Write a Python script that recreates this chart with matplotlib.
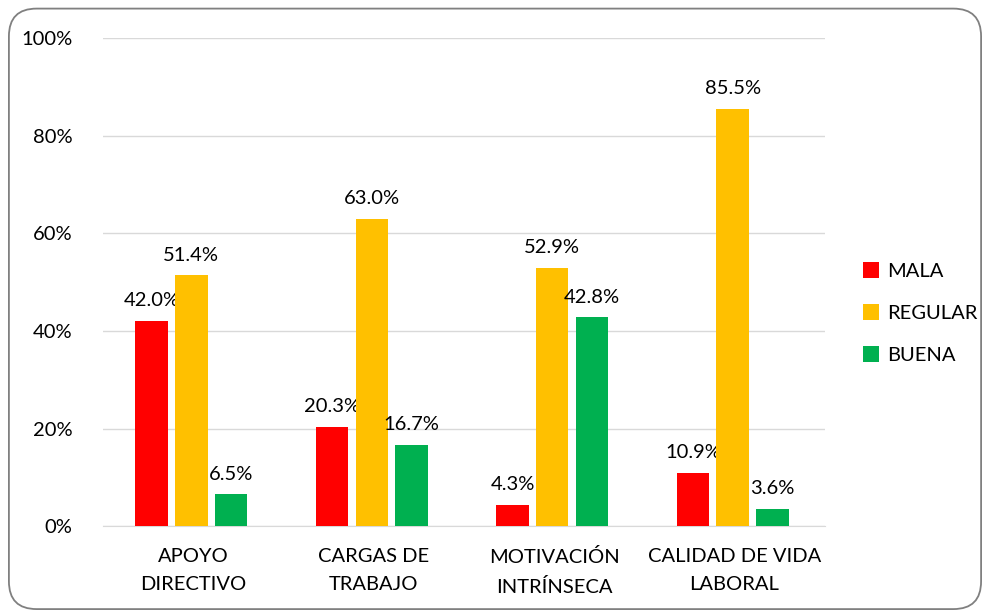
import numpy as np
import matplotlib
matplotlib.use('Agg')
from matplotlib import pyplot as plt
from matplotlib.patches import FancyBboxPatch, Patch

# data
categories = ['APOYO\nDIRECTIVO', 'CARGAS DE\nTRABAJO', 'MOTIVACIÓN\nINTRÍNSECA', 'CALIDAD DE VIDA\nLABORAL']
series = ['MALA', 'REGULAR', 'BUENA']
mala = [42.0, 20.3, 4.3, 10.9]
regular = [51.4, 63.0, 52.9, 85.5]
buena = [6.5, 16.7, 42.8, 3.6]
colors = ['#ff0000', '#ffc000', '#00b050']

plt.rcParams['font.family'] = ['Lato', 'DejaVu Sans']
fs = 14.5

fig = plt.figure(figsize=(9.9, 6.14), dpi=100)
ax = fig.add_axes([0.104, 0.143, 0.729, 0.795])

# rounded border round the chart
border = FancyBboxPatch((0.009, 0.008), 0.982, 0.978, boxstyle='round,pad=0,rounding_size=0.028',
                        transform=fig.transFigure, facecolor='none', edgecolor='#808080',
                        linewidth=1.3, mutation_aspect=990 / 614)
fig.patches.append(border)

x = np.arange(len(categories))
width = 0.18
offset = 0.22
for i, (vals, c) in enumerate(zip([mala, regular, buena], colors)):
    pos = x + (i - 1) * offset - 0.01
    ax.bar(pos, vals, width, color=c, label=series[i], zorder=3)
    for p, v in zip(pos, vals):
        ax.text(p, v + 2.4, f'{v:.1f}%', ha='center', va='bottom', fontsize=fs, color='black')

ax.set_xlim(-0.5, 3.5)
ax.set_ylim(0, 100)
ax.set_yticks(np.arange(0, 101, 20))
ax.set_yticklabels([f'{t}%' for t in range(0, 101, 20)], fontsize=fs)
ax.set_xticks(x)
ax.set_xticklabels(categories, fontsize=fs, linespacing=1.75)
ax.tick_params(axis='both', length=0, colors='black')
ax.tick_params(axis='y', pad=22)
ax.tick_params(axis='x', pad=16)
ax.grid(axis='y', color='#d9d9d9', linewidth=1, zorder=0)
for s in ['top', 'right', 'left']:
    ax.spines[s].set_visible(False)
ax.spines['bottom'].set_color('#d9d9d9')

handles = [Patch(facecolor=c, label=s) for s, c in zip(series, colors)]
fig.legend(handles=handles, loc='center left', bbox_to_anchor=(0.853, 0.49), frameon=False,
           fontsize=fs, handlelength=0.8, handleheight=0.8, handletextpad=0.4, labelspacing=1.2)

fig.savefig('out.png', dpi=100)
